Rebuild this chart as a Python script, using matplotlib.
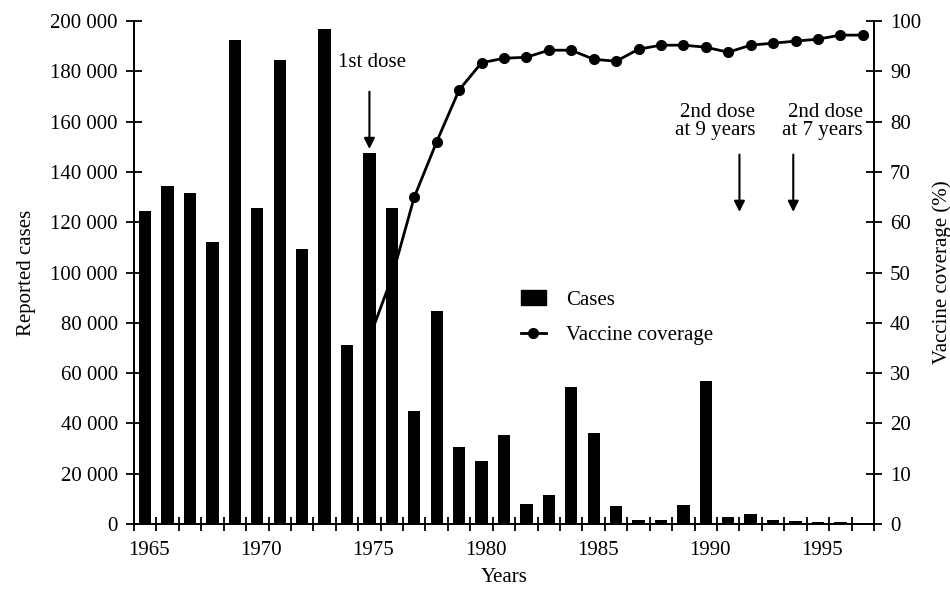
import matplotlib
matplotlib.use("Agg")
import matplotlib.pyplot as plt
import matplotlib.transforms as mtransforms
from matplotlib.lines import Line2D
from matplotlib.patches import Patch

plt.rcParams["font.family"] = ["Liberation Serif", "DejaVu Serif"]
plt.rcParams["font.size"] = 15

# reported cases per year
years = list(range(1965, 1998))
cases = [124500, 134500, 131500, 112000, 192500, 125500, 184500, 109500, 197000, 71000,
         147500, 125500, 45000, 84500, 30500, 25000, 35500, 8000, 11500, 54500,
         36000, 7000, 1500, 1500, 7500, 57000, 2600, 3800, 1600, 1100,
         900, 800, 400]

# vaccine coverage (%)
cov_years = list(range(1975, 1998))
coverage = [37, 49, 65, 76, 86.3, 91.7, 92.6, 92.8, 94.2, 94.2,
            92.4, 92.0, 94.4, 95.2, 95.2, 94.8, 93.8, 95.2, 95.6, 96.0,
            96.4, 97.2, 97.2]

year_ticks = [1965, 1970, 1975, 1980, 1985, 1990, 1995]
case_ticks = list(range(0, 200001, 20000))
cov_ticks = list(range(0, 101, 10))

fig = plt.figure(figsize=(9.5, 5.91), dpi=100)
ax = fig.add_axes([0.141, 0.1134, 0.779, 0.851])
ax2 = ax.twinx()

ax.bar(years, cases, width=0.55, color="black", zorder=2)
ax2.plot(cov_years, coverage, color="black", lw=2, marker="o", markersize=7, zorder=3)

ax.set_xlim(1964.5, 1997.5)
ax.set_ylim(0, 200000)
ax2.set_ylim(0, 100)

# x axis: labels at bar centres, ticks at year boundaries
ax.set_xticks(year_ticks)
ax.set_xticks([y + 0.5 for y in range(1964, 1998)], minor=True)
ax.tick_params(axis="x", which="major", length=0, pad=12)
ax.tick_params(axis="x", which="minor", direction="inout", length=10, width=1.3)
shift = mtransforms.ScaledTranslation(4 / 100, 0, fig.dpi_scale_trans)
for lab in ax.get_xticklabels():
    lab.set_transform(lab.get_transform() + shift)

ax.set_yticks(case_ticks)
ax.set_yticklabels([f"{v:,}".replace(",", " ") for v in case_ticks])
ax.tick_params(axis="y", direction="inout", length=11, width=1.3, pad=6)
ax2.set_yticks(cov_ticks)
ax2.tick_params(axis="y", direction="inout", length=11, width=1.3, pad=6)

for a in (ax, ax2):
    a.spines["top"].set_visible(False)
    for s in ("left", "right", "bottom"):
        a.spines[s].set_linewidth(1.3)

ax.set_xlabel("Years", labelpad=6)
ax.set_ylabel("Reported cases", labelpad=10)
ax2.set_ylabel("Vaccine coverage (%)", labelpad=8)

# annotations
arrow = dict(arrowstyle="-|>", color="black", lw=1.5, mutation_scale=16)
ax.annotate("", xy=(1975, 148000), xytext=(1975, 173000), arrowprops=arrow)
ax.text(1975.1, 183500, "1st dose", ha="center", va="center")
ax.annotate("", xy=(1991.5, 123000), xytext=(1991.5, 148000), arrowprops=arrow)
ax.annotate("", xy=(1993.9, 123000), xytext=(1993.9, 148000), arrowprops=arrow)
ax.text(1992.2, 160000, "2nd dose\nat 9 years", ha="right", va="center", linespacing=0.95)
ax.text(1997.0, 160000, "2nd dose\nat 7 years", ha="right", va="center", linespacing=0.95)

handles = [Patch(facecolor="black", edgecolor="black"),
           Line2D([], [], color="black", lw=2, marker="o", markersize=7)]
ax2.legend(handles, ["Cases", "Vaccine coverage"], loc="center left",
           bbox_to_anchor=(0.497, 0.41), frameon=False, handlelength=1.2,
           handletextpad=1.0, labelspacing=0.75)

fig.savefig("out.png", dpi=100)
